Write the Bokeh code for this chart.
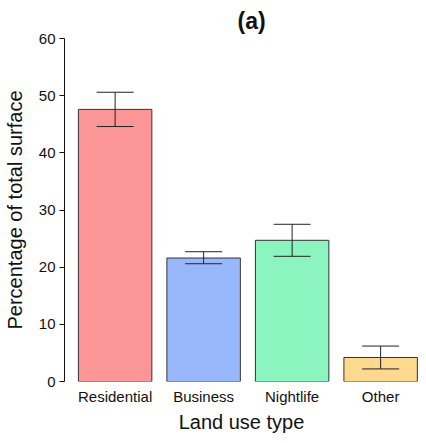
from bokeh.plotting import figure
from bokeh.models import Range1d, FixedTicker, ColumnDataSource, Whisker, TeeHead
from bokeh.embed import file_html
from bokeh.resources import INLINE

categories = ["Residential", "Business", "Nightlife", "Other"]
values = [47.6, 21.6, 24.7, 4.2]
err_upper = [50.6, 22.7, 27.5, 6.2]
err_lower = [44.6, 20.6, 21.9, 2.2]
colors = ["#FC9696", "#99B8FC", "#8CF5BF", "#FDD88F"]
y_ticks = [0, 10, 20, 30, 40, 50, 60]

xs = list(range(1, len(categories) + 1))
src = ColumnDataSource(dict(x=xs, top=values, upper=err_upper, lower=err_lower, color=colors))

FONT = "Liberation Sans"

p = figure(width=418, height=435, output_backend="svg", toolbar_location=None,
           x_range=Range1d(0.428, 4.428), y_range=Range1d(0, 60),
           min_border_left=55, min_border_right=0, min_border_top=30, min_border_bottom=54)
p.outline_line_color = None
p.xgrid.grid_line_color = None
p.ygrid.grid_line_color = None

p.vbar(x="x", top="top", bottom=0, width=0.83, fill_color="color", line_color="#333333",
       line_width=1, source=src)

w = Whisker(base="x", upper="upper", lower="lower", source=src, line_color="#222222", line_width=1,
            upper_head=TeeHead(size=37, line_color="#222222", line_width=1),
            lower_head=TeeHead(size=37, line_color="#222222", line_width=1),
            level="overlay")
p.add_layout(w)

p.title.text = "(a)"
p.title.text_font = FONT
p.title.text_font_size = "23px"
p.title.text_font_style = "bold"
p.title.align = "left"
p.title.offset = 173
p.title.text_color = "#111111"

xa = p.xaxis[0]
xa.ticker = FixedTicker(ticks=xs)
xa.major_label_overrides = {x: c for x, c in zip(xs, categories)}
xa.axis_line_color = None
xa.major_tick_line_color = None
xa.major_tick_out = 0
xa.major_tick_in = 0
xa.minor_tick_line_color = None
xa.minor_tick_out = 0
xa.major_label_text_font = FONT
xa.major_label_text_font_size = "15px"
xa.major_label_text_color = "#111111"
xa.major_label_standoff = 6
xa.axis_label = "Land use type"
xa.axis_label_text_font = FONT
xa.axis_label_text_font_size = "20px"
xa.axis_label_text_font_style = "normal"
xa.axis_label_text_color = "#111111"
xa.axis_label_standoff = 3

ya = p.yaxis[0]
ya.ticker = FixedTicker(ticks=y_ticks)
ya.axis_line_color = "#111111"
ya.major_tick_line_color = "#111111"
ya.major_tick_out = 5
ya.major_tick_in = 0
ya.minor_tick_line_color = None
ya.major_label_text_font = FONT
ya.major_label_text_font_size = "15px"
ya.major_label_text_color = "#111111"
ya.major_label_standoff = 4
ya.axis_label = "Percentage of total surface"
ya.axis_label_text_font = FONT
ya.axis_label_text_font_size = "20px"
ya.axis_label_text_font_style = "normal"
ya.axis_label_text_color = "#111111"
ya.axis_label_standoff = 10

open("out.html", "w").write(file_html(p, INLINE))
